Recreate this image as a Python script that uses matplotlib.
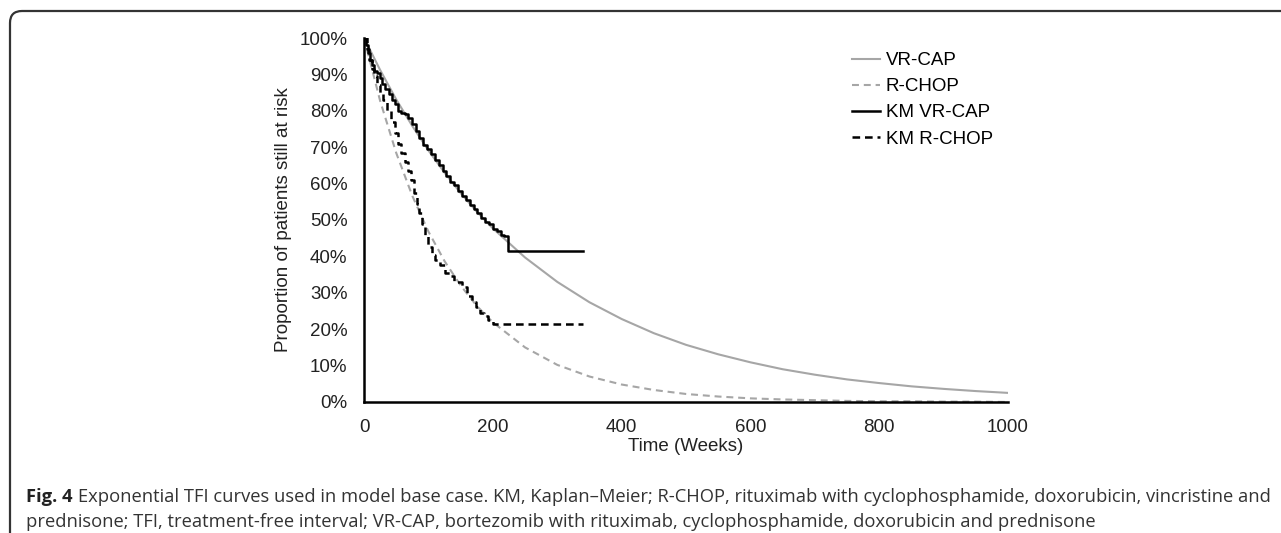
import numpy as np
import matplotlib
matplotlib.use('Agg')
import matplotlib.pyplot as plt
from matplotlib.patches import FancyBboxPatch
from matplotlib.ticker import PercentFormatter

plt.rcParams['font.family'] = ['Liberation Sans', 'DejaVu Sans']
plt.rcParams['lines.scale_dashes'] = False

# fitted exponential curves
weeks = [0, 25, 50, 75, 100, 125, 150, 175, 200, 250, 300, 350, 400, 450, 500,
         550, 600, 650, 700, 750, 800, 850, 900, 950, 1000]
vrcap = [1.000, 0.912, 0.831, 0.758, 0.691, 0.630, 0.574, 0.523, 0.477, 0.397,
         0.330, 0.274, 0.228, 0.189, 0.157, 0.131, 0.109, 0.090, 0.075, 0.062,
         0.052, 0.043, 0.036, 0.030, 0.025]
rchop = [1.000, 0.827, 0.684, 0.566, 0.468, 0.387, 0.320, 0.264, 0.219, 0.150,
         0.102, 0.070, 0.048, 0.033, 0.022, 0.015, 0.010, 0.007, 0.005, 0.003,
         0.002, 0.002, 0.001, 0.001, 0.000]

# Kaplan-Meier steps
km_vrcap_t = [0, 3, 6, 9, 12, 16, 20, 24, 28, 33, 38, 43, 48, 53, 58, 63, 68, 74,
              80, 86, 92, 98, 104, 110, 116, 122, 128, 134, 140, 146, 152, 158,
              164, 170, 176, 182, 188, 194, 200, 206, 212, 218, 224, 340]
km_vrcap_s = [1.0, .98, .96, .94, .925, .91, .905, .89, .875, .86, .845, .83, .82,
              .80, .795, .79, .78, .765, .745, .725, .705, .695, .68, .665, .65,
              .635, .62, .605, .595, .58, .565, .555, .54, .53, .52, .505, .495,
              .49, .475, .47, .46, .455, .415, .415]
km_rchop_t = [0, 4, 8, 12, 16, 20, 25, 30, 36, 42, 48, 53, 58, 63, 68, 73, 78, 82,
              86, 90, 95, 100, 105, 110, 118, 126, 134, 140, 146, 152, 160, 167,
              174, 180, 186, 192, 200, 340]
km_rchop_s = [1.0, .97, .94, .915, .895, .87, .85, .83, .80, .77, .74, .71, .685,
              .66, .635, .61, .575, .545, .52, .49, .46, .425, .405, .39, .375,
              .355, .345, .33, .33, .315, .29, .275, .26, .245, .235, .225, .215,
              .215]

x_ticks = [0, 200, 400, 600, 800, 1000]
y_ticks = [0, .1, .2, .3, .4, .5, .6, .7, .8, .9, 1.0]

caption1 = ("Exponential TFI curves used in model base case. KM, Kaplan\u2013Meier; R-CHOP, "
            "rituximab with cyclophosphamide, doxorubicin, vincristine and")
caption2 = ("prednisone; TFI, treatment-free interval; VR-CAP, bortezomib with rituximab, "
            "cyclophosphamide, doxorubicin and prednisone")

fig = plt.figure(figsize=(12.81, 5.33), dpi=100)
ax = fig.add_axes([0.2842, 0.2458, 0.5027, 0.6829])

gray = '#a6a6a6'
ax.plot(weeks, vrcap, color=gray, lw=1.5, label='VR-CAP')
ax.plot(weeks, rchop, color=gray, lw=1.5, dashes=(5, 3.5), label='R-CHOP')
ax.step(km_vrcap_t, km_vrcap_s, where='post', color='black', lw=1.8, label='KM VR-CAP')
ax.step(km_rchop_t, km_rchop_s, where='post', color='black', lw=1.8,
        dashes=(5.5, 3.5), label='KM R-CHOP')

ax.set_xlim(0, 1000)
ax.set_ylim(0, 1)
ax.set_xticks(x_ticks)
ax.set_yticks(y_ticks)
ax.yaxis.set_major_formatter(PercentFormatter(1.0, decimals=0))
for s in ['top', 'right']:
    ax.spines[s].set_visible(False)
for s in ['left', 'bottom']:
    ax.spines[s].set_linewidth(1.8)
    ax.spines[s].set_color('black')
ax.tick_params(length=0, labelsize=13.5, colors='#222222')
ax.tick_params(axis='y', pad=12)
ax.tick_params(axis='x', pad=12)

ax.set_xlabel('Time (Weeks)', fontsize=13.5, color='#222222')
ax.set_ylabel('Proportion of patients still at risk', fontsize=13.5, color='#222222')
ax.xaxis.set_label_coords(0.5, -0.1)
ax.yaxis.set_label_coords(-0.112, 0.5)

fig.legend(loc='upper left', bbox_to_anchor=(852 / 1281, 1 - 52 / 533),
           frameon=False, fontsize=13.5, handlelength=1.5, handletextpad=0.3,
           labelspacing=0.48, borderpad=0, borderaxespad=0)

# rounded frame, runs off the right and bottom edges
frame = FancyBboxPatch((0.10, -1.0), 14.0, 6.22,
                       boxstyle='round,pad=0,rounding_size=0.12',
                       transform=fig.dpi_scale_trans, fill=False,
                       edgecolor='#333333', lw=1.6)
fig.patches.append(frame)

cap_font = ['Open Sans', 'DejaVu Sans']
cap_size = 13.2
t_bold = fig.text(26 / 1281, 1 - 497 / 533, 'Fig. 4', fontsize=cap_size,
                  weight='bold', family=cap_font, va='center', color='#222222')
fig.canvas.draw()
r = fig.canvas.get_renderer()
bb = t_bold.get_window_extent(r)
x_next = (bb.x1 + 5) / 1281
fig.text(x_next, 1 - 497 / 533, caption1, fontsize=cap_size, family=cap_font,
         va='center', color='#333333')
fig.text(26 / 1281, 1 - 522 / 533, caption2, fontsize=cap_size, family=cap_font,
         va='center', color='#333333')

fig.savefig('out.png', dpi=100)
